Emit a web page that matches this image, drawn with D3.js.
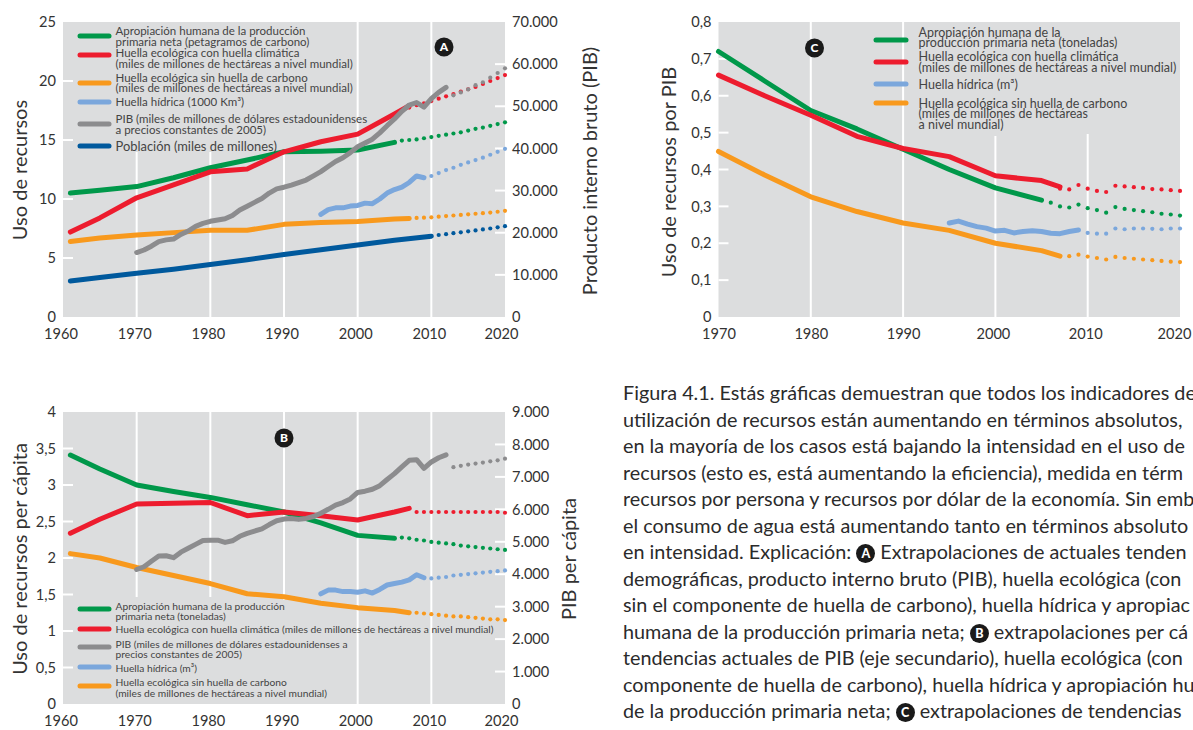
<!DOCTYPE html>
<html lang="es">
<head>
<meta charset="utf-8">
<script src="https://cdn.jsdelivr.net/npm/d3@7"></script>
<style>
  html, body { margin: 0; padding: 0; background: #fff; overflow: hidden; width: 1193px; height: 730px; }
  svg { position: absolute; left: 0; top: 0; font-family: Lato, sans-serif; }
  .tick text { fill: #333; font-size: 14.6px; font-family: Lato, sans-serif; }
  .axis-title { fill: #333; font-size: 20px; text-anchor: middle; }
  .legend-text { fill: #444; }
  #caption { position: absolute; left: 623px; top: 379px; font: 19.8px/26.5px Lato, sans-serif; color: #2b2b2b; white-space: nowrap; }
  .badge { display: inline-block; width: 19px; height: 19px; line-height: 19px; border-radius: 50%; background: #1a1a1a; color: #fff; font-size: 12.5px; font-weight: 900; text-align: center; vertical-align: 1px; }
</style>
</head>
<body>
<svg id="chart" width="1193" height="730"></svg>
<div id="caption"></div>
<script>
const GREEN = "#00984a", RED = "#ed1c2e", ORANGE = "#f8991d", BLUE = "#7ba7dc", GRAY = "#8c8c8e", NAVY = "#00599d";

// panel A
const aGreen = [[1961,10.5],[1965,10.75],[1970,11.05],[1975,11.8],[1980,12.65],[1985,13.3],[1990,14],[1995,14.05],[2000,14.15],[2005,14.8]];
const aGreenDots = [[2006,14.95],[2007,15],[2008,15.05],[2009,15.15],[2010,15.25],[2011,15.35],[2012,15.45],[2013,15.55],[2014,15.65],[2015,15.8],[2016,15.95],[2017,16.05],[2018,16.2],[2019,16.35],[2020,16.5]];
const aRed = [[1961,7.2],[1965,8.4],[1970,10.1],[1975,11.2],[1980,12.3],[1985,12.55],[1990,14],[1995,14.85],[2000,15.5],[2005,17.2],[2007,17.9]];
const aRedDots = [[2007,17.75],[2008,17.95],[2009,18.1],[2010,18.3],[2011,18.5],[2012,18.7],[2013,18.9],[2014,19.1],[2015,19.3],[2016,19.5],[2017,19.75],[2018,20],[2019,20.25],[2020,20.5]];
const aOrange = [[1961,6.4],[1965,6.7],[1970,6.95],[1975,7.15],[1980,7.35],[1985,7.35],[1990,7.85],[1995,8],[2000,8.1],[2005,8.3],[2007,8.35]];
const aOrangeDots = [[2008,8.4],[2009,8.42],[2010,8.45],[2011,8.5],[2012,8.55],[2013,8.6],[2014,8.65],[2015,8.7],[2016,8.75],[2017,8.8],[2018,8.85],[2019,8.92],[2020,9]];
const aBlue = [[1995,8.7],[1996,9.1],[1997,9.25],[1998,9.25],[1999,9.4],[2000,9.45],[2001,9.65],[2002,9.6],[2003,10],[2004,10.5],[2005,10.8],[2006,11],[2007,11.4],[2008,11.95],[2009,11.8]];
const aBlueDots = [[2010,11.95],[2011,12.2],[2012,12.45],[2013,12.65],[2014,12.9],[2015,13.1],[2016,13.3],[2017,13.5],[2018,13.75],[2019,14],[2020,14.25]];
const aGdp = [[1970,15300],[1971,15900],[1972,16800],[1973,17900],[1974,18300],[1975,18500],[1976,19600],[1977,20400],[1978,21500],[1979,22200],[1980,22700],[1981,23000],[1982,23300],[1983,24100],[1984,25400],[1985,26300],[1986,27200],[1987,28100],[1988,29400],[1989,30400],[1990,30800],[1991,31300],[1992,31900],[1993,32500],[1994,33500],[1995,34500],[1996,35700],[1997,36900],[1998,37800],[1999,39000],[2000,40400],[2001,41300],[2002,42200],[2003,43700],[2004,45400],[2005,47000],[2006,48800],[2007,50300],[2008,50900],[2009,49800],[2010,51800],[2011,53300],[2012,54500]];
const aGdpDots = [[2013,52600],[2014,53300],[2015,54000],[2016,55000],[2017,55700],[2018,56800],[2019,57900],[2020,59000]];
const aPop = [[1961,3.05],[1965,3.35],[1970,3.7],[1975,4.05],[1980,4.45],[1985,4.85],[1990,5.3],[1995,5.7],[2000,6.1],[2005,6.5],[2010,6.85]];
const aPopDots = [[2011,6.95],[2012,7.02],[2013,7.1],[2014,7.18],[2015,7.26],[2016,7.34],[2017,7.42],[2018,7.5],[2019,7.6],[2020,7.7]];

// panel B
const bGreen = [[1961,3.41],[1965,3.22],[1970,3],[1975,2.91],[1980,2.83],[1985,2.73],[1990,2.63],[1995,2.48],[2000,2.31],[2005,2.27]];
const bGreenDots = [[2006,2.28],[2007,2.27],[2008,2.25],[2009,2.24],[2010,2.22],[2011,2.21],[2012,2.2],[2013,2.19],[2014,2.17],[2015,2.16],[2016,2.15],[2017,2.14],[2018,2.13],[2019,2.12],[2020,2.11]];
const bRed = [[1961,2.34],[1965,2.53],[1970,2.74],[1975,2.75],[1980,2.76],[1985,2.58],[1990,2.63],[1995,2.58],[2000,2.52],[2005,2.63],[2007,2.68]];
const bRedDots = [[2008,2.63],[2009,2.63],[2010,2.63],[2011,2.63],[2012,2.63],[2013,2.63],[2014,2.63],[2015,2.63],[2016,2.63],[2017,2.63],[2018,2.63],[2019,2.63],[2020,2.62]];
const bOrange = [[1961,2.06],[1965,2],[1970,1.87],[1975,1.76],[1980,1.65],[1985,1.51],[1990,1.47],[1995,1.38],[2000,1.32],[2005,1.28],[2007,1.25]];
const bOrangeDots = [[2008,1.25],[2009,1.24],[2010,1.23],[2011,1.22],[2012,1.21],[2013,1.2],[2014,1.2],[2015,1.19],[2016,1.18],[2017,1.17],[2018,1.16],[2019,1.16],[2020,1.15]];
const bBlue = [[1995,1.51],[1996,1.56],[1997,1.56],[1998,1.54],[1999,1.54],[2000,1.53],[2001,1.55],[2002,1.52],[2003,1.57],[2004,1.63],[2005,1.65],[2006,1.67],[2007,1.7],[2008,1.77],[2009,1.73]];
const bBlueDots = [[2010,1.72],[2011,1.73],[2012,1.74],[2013,1.76],[2014,1.77],[2015,1.78],[2016,1.79],[2017,1.8],[2018,1.81],[2019,1.82],[2020,1.83]];
const bGdp = [[1970,4145],[1971,4230],[1972,4400],[1973,4560],[1974,4570],[1975,4510],[1976,4680],[1977,4800],[1978,4920],[1979,5040],[1980,5050],[1981,5050],[1982,4980],[1983,5030],[1984,5170],[1985,5260],[1986,5330],[1987,5400],[1988,5530],[1989,5650],[1990,5700],[1991,5720],[1992,5690],[1993,5720],[1994,5780],[1995,5880],[1996,6000],[1997,6130],[1998,6210],[1999,6320],[2000,6520],[2001,6560],[2002,6620],[2003,6730],[2004,6920],[2005,7100],[2006,7310],[2007,7510],[2008,7530],[2009,7260],[2010,7460],[2011,7590],[2012,7680]];
const bGdpDots = [[2013,7300],[2014,7340],[2015,7380],[2016,7410],[2017,7440],[2018,7480],[2019,7510],[2020,7560]];

// panel C
const cGreen = [[1970,0.72],[1975,0.64],[1980,0.56],[1985,0.51],[1990,0.455],[1995,0.4],[2000,0.35],[2005,0.317]];
const cGreenDots = [[2006,0.31],[2007,0.3],[2008,0.297],[2009,0.305],[2010,0.295],[2011,0.29],[2012,0.283],[2013,0.298],[2014,0.293],[2015,0.29],[2016,0.287],[2017,0.284],[2018,0.28],[2019,0.278],[2020,0.275]];
const cRed = [[1970,0.656],[1975,0.6],[1980,0.547],[1985,0.49],[1990,0.457],[1995,0.435],[2000,0.383],[2005,0.37],[2007,0.353]];
const cRedDots = [[2007,0.348],[2008,0.346],[2009,0.358],[2010,0.348],[2011,0.342],[2012,0.339],[2013,0.356],[2014,0.354],[2015,0.352],[2016,0.35],[2017,0.347],[2018,0.346],[2019,0.344],[2020,0.342]];
const cOrange = [[1970,0.449],[1975,0.385],[1980,0.326],[1985,0.286],[1990,0.255],[1995,0.235],[2000,0.2],[2005,0.18],[2007,0.165]];
const cOrangeDots = [[2008,0.165],[2009,0.169],[2010,0.164],[2011,0.16],[2012,0.156],[2013,0.163],[2014,0.16],[2015,0.158],[2016,0.156],[2017,0.154],[2018,0.152],[2019,0.15],[2020,0.149]];
const cBlue = [[1995,0.255],[1996,0.26],[1997,0.252],[1998,0.245],[1999,0.241],[2000,0.233],[2001,0.235],[2002,0.228],[2003,0.232],[2004,0.234],[2005,0.232],[2006,0.227],[2007,0.226],[2008,0.232],[2009,0.236]];
const cBlueDots = [[2010,0.228],[2011,0.226],[2012,0.226],[2013,0.24],[2014,0.238],[2015,0.24],[2016,0.24],[2017,0.239],[2018,0.238],[2019,0.24],[2020,0.24]];

const aYTicks = [0,5,10,15,20,25], aY2Ticks = [0,10000,20000,30000,40000,50000,60000,70000];
const bYTicks = [0,0.5,1,1.5,2,2.5,3,3.5,4], bY2Ticks = [0,1000,2000,3000,4000,5000,6000,7000,8000,9000];
const cYTicks = [0,0.1,0.2,0.3,0.4,0.5,0.6,0.7,0.8];
const decadesFrom60 = [1960,1970,1980,1990,2000,2010,2020], decadesFrom70 = [1970,1980,1990,2000,2010,2020];

const aLegend = [
  {color: GREEN, y: 36, size: 11.5, lines: [["Apropiación humana de la producción", 31], ["primaria neta (petagramos de carbono)", 42]]},
  {color: RED, y: 55, size: 11.5, lines: [["Huella ecológica con huella climática", 53], ["(miles de millones de hectáreas a nivel mundial)", 64]]},
  {color: ORANGE, y: 83, size: 11.5, lines: [["Huella ecológica sin huella de carbono", 78], ["(miles de millones de hectáreas a nivel mundial)", 88]]},
  {color: BLUE, y: 102, size: 11.5, lines: [["Huella hídrica (1000 Km³)", 102]]},
  {color: GRAY, y: 124, size: 11.5, lines: [["PIB (miles de millones de dólares estadounidenses", 119], ["a precios constantes de 2005)", 130]]},
  {color: NAVY, y: 146, size: 12.9, lines: [["Población (miles de millones)", 146]]}
];
const bLegend = [
  {color: GREEN, y: 609, size: 10.25, lines: [["Apropiación humana de la producción", 606], ["primaria neta (toneladas)", 616]]},
  {color: RED, y: 629, size: 10.25, lines: [["Huella ecológica con huella climática (miles de millones de hectáreas a nivel mundial)", 629]]},
  {color: GRAY, y: 647, size: 10.25, lines: [["PIB (miles de millones de dólares estadounidenses a", 644], ["precios constantes de 2005)", 654]]},
  {color: BLUE, y: 667, size: 10.25, lines: [["Huella hídrica (m³)", 668]]},
  {color: ORANGE, y: 686, size: 10.25, lines: [["Huella ecológica sin huella de carbono", 682], ["(miles de millones de hectáreas a nivel mundial)", 693]]}
];
const cLegend = [
  {color: GREEN, y: 40, size: 12.5, lines: [["Apropiación humana de la", 33], ["producción primaria neta (toneladas)", 43]]},
  {color: RED, y: 62, size: 12.5, lines: [["Huella ecológica con huella climática", 57], ["(miles de millones de hectáreas a nivel mundial)", 68]]},
  {color: BLUE, y: 84, size: 12.5, lines: [["Huella hídrica (m³)", 85]]},
  {color: ORANGE, y: 103, size: 12.5, lines: [["Huella ecológica sin huella de carbono", 104], ["(miles de millones de hectáreas", 114], ["a nivel mundial)", 125]]}
];

// only what the reference shows before its right edge
const captionLines = [
  ["Figura 4.1. Estás gráficas demuestran que todos los indicadores de"],
  ["utilización de recursos están aumentando en términos absolutos,"],
  ["en la mayoría de los casos está bajando la intensidad en el uso de"],
  ["recursos (esto es, está aumentando la eficiencia), medida en térm"],
  ["recursos por persona y recursos por dólar de la economía. Sin emb"],
  ["el consumo de agua está aumentando tanto en términos absoluto"],
  ["en intensidad. Explicación: ", "A", " Extrapolaciones de actuales tenden"],
  ["demográficas, producto interno bruto (PIB), huella ecológica (con"],
  ["sin el componente de huella de carbono), huella hídrica y apropiac"],
  ["humana de la producción primaria neta; ", "B", " extrapolaciones per cá"],
  ["tendencias actuales de PIB (eje secundario), huella ecológica (con"],
  ["componente de huella de carbono), huella hídrica y apropiación hu"],
  ["de la producción primaria neta; ", "C", " extrapolaciones de tendencias"]
];

const svg = d3.select("#chart");
const es = d3.formatLocale({decimal: ",", thousands: ".", grouping: [3], currency: ["", ""]});

function drawPanel(p) {
  const x = d3.scaleLinear().domain(p.xDomain).range([p.left, p.right]);
  const y = d3.scaleLinear().domain(p.yDomain).range([p.bottom, p.top]);
  const y2 = p.y2Domain ? d3.scaleLinear().domain(p.y2Domain).range([p.bottom, p.top]) : null;
  const g = svg.append("g");

  g.append("rect").attr("x", p.left).attr("y", p.top)
    .attr("width", p.right - p.left).attr("height", p.bottom - p.top).attr("fill", "#dcddde");

  // white decade rules, some of them stop where the legend sits
  p.rules.forEach(r => {
    g.append("line").attr("x1", x(r.year)).attr("x2", x(r.year))
      .attr("y1", r.from).attr("y2", r.to).attr("stroke", "#fff").attr("stroke-width", 2);
  });

  // short white ticks inside the plot
  p.yTicks.filter(t => t > p.yDomain[0] && t < p.yDomain[1]).forEach(t => {
    g.append("line").attr("x1", p.left).attr("x2", p.left + 10).attr("y1", y(t)).attr("y2", y(t))
      .attr("stroke", "#fff").attr("stroke-width", 2);
  });
  if (y2) {
    p.y2Ticks.filter(t => t > p.y2Domain[0] && t < p.y2Domain[1]).forEach(t => {
      g.append("line").attr("x1", p.right - 10).attr("x2", p.right).attr("y1", y2(t)).attr("y2", y2(t))
        .attr("stroke", "#fff").attr("stroke-width", 2);
    });
  }

  const xAxis = g.append("g").attr("transform", `translate(0,${p.bottom})`)
    .call(d3.axisBottom(x).tickValues(p.xTicks).tickFormat(d3.format("d")).tickSize(0).tickPadding(12));
  xAxis.select(".domain").remove();
  xAxis.selectAll(".tick text").attr("dx", p.xLabelShift);

  const yAxis = g.append("g").attr("transform", `translate(${p.left},0)`)
    .call(d3.axisLeft(y).tickValues(p.yTicks).tickFormat(es.format(".1~f")).tickSize(0).tickPadding(7));
  yAxis.select(".domain").remove();

  if (y2) {
    const y2Axis = g.append("g").attr("transform", `translate(${p.right},0)`)
      .call(d3.axisRight(y2).tickValues(p.y2Ticks).tickFormat(es.format(",")).tickSize(0).tickPadding(7));
    y2Axis.select(".domain").remove();
  }

  const lineGen = scale => d3.line().x(d => x(d[0])).y(d => scale(d[1]));

  p.series.forEach(s => {
    const scale = s.secondary ? y2 : y;
    g.append("path").datum(s.solid).attr("d", lineGen(scale))
      .attr("fill", "none").attr("stroke", s.color).attr("stroke-width", 5)
      .attr("stroke-linejoin", "round").attr("stroke-linecap", "round");
    g.selectAll(null).data(s.dots).enter().append("circle")
      .attr("cx", d => x(d[0])).attr("cy", d => scale(d[1])).attr("r", 2.1).attr("fill", s.color);
  });

  p.titles.forEach(t => {
    g.append("text").attr("class", "axis-title")
      .attr("transform", `translate(${t.x},${t.y}) rotate(-90)`).attr("dy", "0.35em").text(t.text);
  });

  p.legend.forEach(l => {
    g.append("line").attr("x1", p.legendX[0]).attr("x2", p.legendX[1]).attr("y1", l.y).attr("y2", l.y)
      .attr("stroke", l.color).attr("stroke-width", 5).attr("stroke-linecap", "round");
    l.lines.forEach(d => {
      g.append("text").attr("class", "legend-text").attr("x", p.legendX[2]).attr("y", d[1])
        .attr("dy", "0.35em").attr("font-size", l.size).text(d[0]);
    });
  });

  g.append("circle").attr("cx", p.badge.x).attr("cy", p.badge.y).attr("r", 9.5).attr("fill", "#1a1a1a");
  g.append("text").attr("x", p.badge.x).attr("y", p.badge.y).attr("dy", "0.36em").attr("text-anchor", "middle")
    .attr("fill", "#fff").attr("font-size", 12).attr("font-weight", 900).text(p.badge.label);
}

drawPanel({
  left: 63, right: 505, top: 22, bottom: 317,
  xDomain: [1960, 2020], yDomain: [0, 25], y2Domain: [0, 70000],
  xTicks: decadesFrom60, yTicks: aYTicks, y2Ticks: aY2Ticks,
  xLabelShift: d => d === 2020 ? -4 : -2.5,
  rules: [{year: 1970, from: 152, to: 317}, {year: 1980, from: 152, to: 317}, {year: 1990, from: 152, to: 317}, {year: 2000, from: 22, to: 317}, {year: 2010, from: 22, to: 317}],
  series: [
    {color: GREEN, solid: aGreen, dots: aGreenDots},
    {color: RED, solid: aRed, dots: aRedDots},
    {color: ORANGE, solid: aOrange, dots: aOrangeDots},
    {color: BLUE, solid: aBlue, dots: aBlueDots},
    {color: GRAY, solid: aGdp, dots: aGdpDots, secondary: true},
    {color: NAVY, solid: aPop, dots: aPopDots}
  ],
  titles: [{x: 20, y: 170, text: "Uso de recursos"}, {x: 590, y: 171, text: "Producto interno bruto (PIB)"}],
  legend: aLegend, legendX: [80, 109, 115.5],
  badge: {x: 444, y: 47, label: "A"}
});

drawPanel({
  left: 63, right: 505, top: 412, bottom: 704,
  xDomain: [1960, 2020], yDomain: [0, 4], y2Domain: [0, 9000],
  xTicks: decadesFrom60, yTicks: bYTicks, y2Ticks: bY2Ticks,
  xLabelShift: d => d === 2020 ? -4 : -2.5,
  rules: [{year: 1970, from: 412, to: 597}, {year: 1980, from: 412, to: 597}, {year: 1990, from: 412, to: 600}, {year: 2000, from: 412, to: 704}, {year: 2010, from: 412, to: 704}],
  series: [
    {color: GREEN, solid: bGreen, dots: bGreenDots},
    {color: RED, solid: bRed, dots: bRedDots},
    {color: ORANGE, solid: bOrange, dots: bOrangeDots},
    {color: BLUE, solid: bBlue, dots: bBlueDots},
    {color: GRAY, solid: bGdp, dots: bGdpDots, secondary: true}
  ],
  titles: [{x: 20, y: 559, text: "Uso de recursos per cápita"}, {x: 569, y: 559, text: "PIB per cápita"}],
  legend: bLegend, legendX: [80, 109, 115.5],
  badge: {x: 284, y: 438, label: "B"}
});

drawPanel({
  left: 718.5, right: 1180, top: 22, bottom: 317,
  xDomain: [1970, 2020], yDomain: [0, 0.8],
  xTicks: decadesFrom70, yTicks: cYTicks,
  xLabelShift: d => d === 2020 ? -6 : d >= 2000 ? -2.5 : 0,
  rules: [{year: 1980, from: 22, to: 317}, {year: 1990, from: 22, to: 317}, {year: 2000, from: 136, to: 317}, {year: 2010, from: 134, to: 317}],
  series: [
    {color: GREEN, solid: cGreen, dots: cGreenDots},
    {color: RED, solid: cRed, dots: cRedDots},
    {color: ORANGE, solid: cOrange, dots: cOrangeDots},
    {color: BLUE, solid: cBlue, dots: cBlueDots}
  ],
  titles: [{x: 669, y: 172, text: "Uso de recursos por PIB"}],
  legend: cLegend, legendX: [876, 906, 918.5],
  badge: {x: 814.5, y: 48, label: "C"}
});

const caption = d3.select("#caption");
captionLines.forEach(parts => {
  const row = caption.append("div");
  parts.forEach(t => {
    if (t.length === 1) row.append("span").attr("class", "badge").text(t);
    else row.append("span").text(t);
  });
});
</script>
</body>
</html>
